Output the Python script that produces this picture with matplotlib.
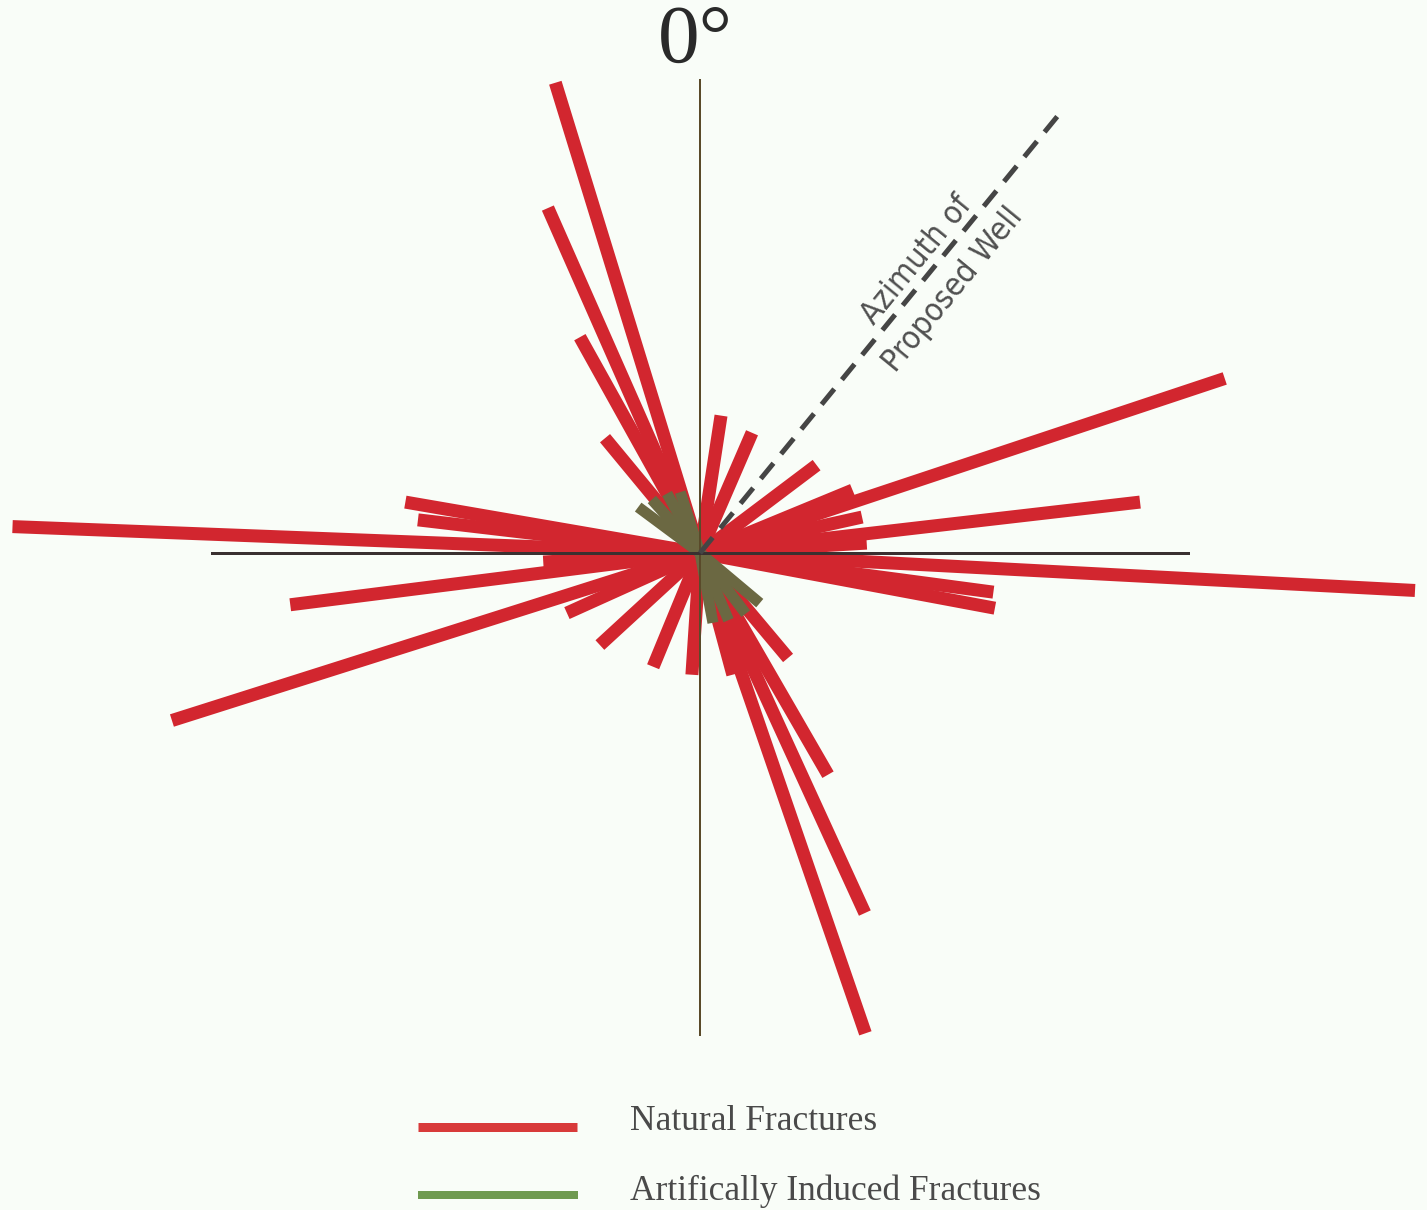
import matplotlib.pyplot as plt
import numpy as np
from matplotlib.lines import Line2D

# fracture strikes: azimuth in degrees clockwise from north, length in px
natural_az = [342.9, 336.2, 330.9, 320.4, 279.8, 276.7, 272.2, 266.7,
              262.8, 252.4, 245.7, 227.4, 202.4, 183.8,
              161.0, 155.4, 150.0, 140.0, 164.9, 93.0, 97.6, 100.6,
              8.7, 23.4, 53.0, 67.6, 71.6, 77.5, 83.4, 86.6]
natural_len = [492, 377, 247, 149, 299, 284, 688, 157,
               413, 554, 146, 136, 123, 122,
               508, 396, 256, 137, 126, 716, 296, 300,
               139, 131, 146, 165, 553, 166, 443, 167]

induced_az = [306.6, 318.0, 331.0, 342.0, 130.0, 143.0, 157.0, 169.5]
induced_len = [77, 72, 68, 64, 78, 76, 73, 71]

well_az = 39.3
well_len = 566

legend_labels = ["Natural Fractures", "Artifically Induced Fractures"]

W, H = 1427, 1210
CX, CY = 700, 553   # centre of the rose, px from top-left
R = 760

red = '#d2262f'
olive = '#6b6842'
bg = '#f9fdf8'

fig = plt.figure(figsize=(W / 100, H / 100), dpi=100, facecolor=bg)
ax = fig.add_axes([(CX - R) / W, (H - CY - R) / H, 2 * R / W, 2 * R / H],
                  projection='polar')
ax.set_theta_zero_location('N')
ax.set_theta_direction(-1)
ax.set_rlim(0, R)
ax.set_facecolor('none')
ax.axis('off')

px = 72 / 100  # points per pixel

for az, ln in zip(natural_az, natural_len):
    t = np.deg2rad(az)
    ax.plot([t, t], [0, ln], color=red, lw=13 * px,
            solid_capstyle='butt', clip_on=False, zorder=2)

for az, ln in zip(induced_az, induced_len):
    t = np.deg2rad(az)
    ax.plot([t, t], [0, ln], color=olive, lw=11 * px,
            solid_capstyle='butt', clip_on=False, zorder=3)

# reference cross
ax.plot([0, 0], [0, 473], color='#5a4a2a', lw=2 * px, zorder=4)
ax.plot([np.pi, np.pi], [0, 482], color='#5a4a2a', lw=2 * px, zorder=4)
ax.plot([np.pi / 2, np.pi / 2], [0, 488], color='#3a3030', lw=3 * px, zorder=4)
ax.plot([1.5 * np.pi, 1.5 * np.pi], [0, 488], color='#3a3030', lw=3 * px, zorder=4)

# proposed well direction
tw = np.deg2rad(well_az)
ax.plot([tw, tw], [0, well_len], color='#454545', lw=5 * px,
        dashes=(4, 2.4), solid_capstyle='butt', zorder=5)

rot = 90 - well_az
for label, (x, y) in [("Azimuth of", (917, 260)), ("Proposed Well", (953, 290))]:
    fig.text(x / W, 1 - y / H, label, rotation=rot, rotation_mode='anchor',
             ha='center', va='center', fontsize=23, color='#505050',
             family=['Liberation Sans Narrow', 'DejaVu Sans'], stretch='condensed')

fig.text(695 / W, 1 - 42 / H, "0°", ha='center', va='center', fontsize=60,
         color='#2a2a2a', family=['Liberation Serif', 'DejaVu Serif'])

# legend
fig.add_artist(Line2D([418 / W, 577 / W], [1 - 1127 / H, 1 - 1127 / H],
                      color='#d83a3a', lw=9 * px, solid_capstyle='butt'))
fig.add_artist(Line2D([418 / W, 578 / W], [1 - 1195 / H, 1 - 1195 / H],
                      color='#6f9a50', lw=8 * px, solid_capstyle='butt'))
fig.text(630 / W, 1 - 1121 / H, legend_labels[0], ha='left', va='center',
         fontsize=25.5, color='#4a4a4a', family=['Liberation Serif', 'DejaVu Serif'])
fig.text(630 / W, 1 - 1191 / H, legend_labels[1], ha='left', va='center',
         fontsize=25.5, color='#4a4a4a', family=['Liberation Serif', 'DejaVu Serif'])

fig.savefig('out.png', dpi=100, facecolor=bg)
